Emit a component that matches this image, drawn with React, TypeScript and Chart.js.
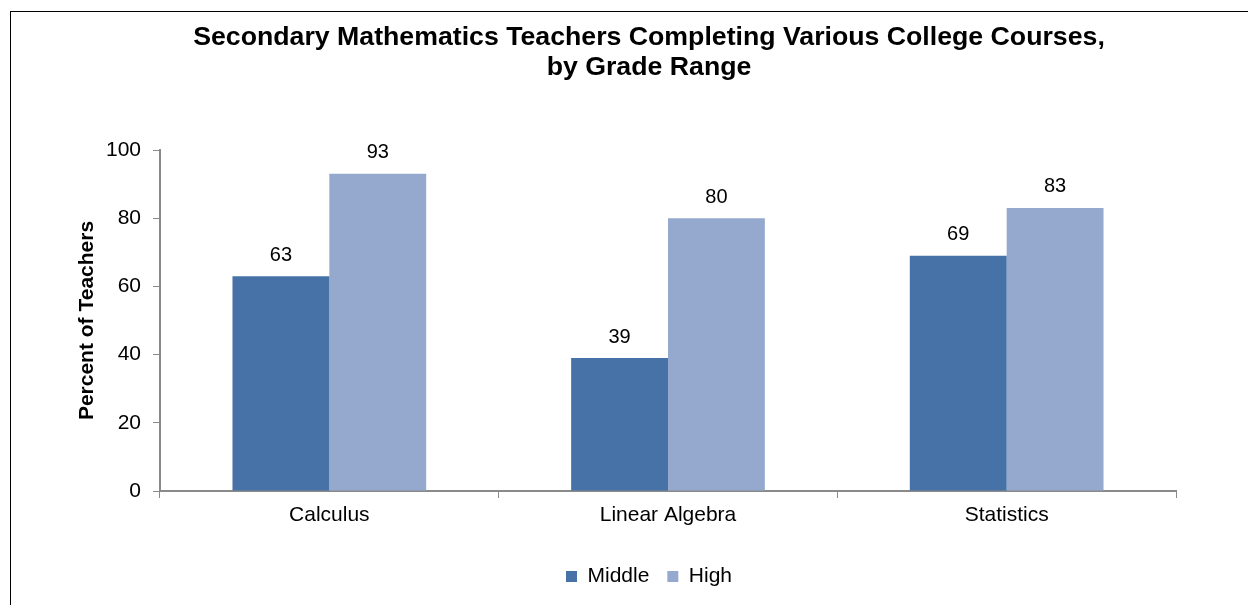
import React, { useEffect, useRef } from "react";
import { Chart, registerables } from "chart.js";

Chart.register(...registerables);

const TITLE_LINES = [
  "Secondary Mathematics Teachers Completing Various College Courses,",
  "by Grade Range",
];
const Y_TITLE = "Percent of Teachers";
const CATEGORIES = ["Calculus", "Linear Algebra", "Statistics"];
const SERIES_NAMES = ["Middle", "High"];
const MIDDLE_VALUES = [63, 39, 69];
const HIGH_VALUES = [93, 80, 83];
const Y_MIN = 0;
const Y_MAX = 100;
const Y_STEP = 20;

const COLOR_MIDDLE = "#4672A7";
const COLOR_HIGH = "#95A9CF";
const AXIS_COLOR = "#8A8A8A";
const FONT = '"Liberation Sans", Arial, sans-serif';

const dataLabels = {
  id: "dataLabels",
  afterDatasetsDraw(chart: any) {
    const ctx = chart.ctx;
    ctx.save();
    ctx.font = `20px ${FONT}`;
    ctx.fillStyle = "#000";
    ctx.textAlign = "center";
    ctx.textBaseline = "middle";
    chart.data.datasets.forEach((ds: any, i: number) => {
      const meta = chart.getDatasetMeta(i);
      meta.data.forEach((bar: any, j: number) => {
        ctx.fillText(String(ds.data[j]), bar.x, bar.y - 21);
      });
    });
    ctx.restore();
  },
};

export default function App() {
  const ref = useRef<HTMLCanvasElement>(null);

  useEffect(() => {
    if (!ref.current) return;
    const chart = new Chart(ref.current, {
      type: "bar",
      data: {
        labels: CATEGORIES,
        datasets: [
          {
            label: SERIES_NAMES[0],
            data: MIDDLE_VALUES,
            backgroundColor: COLOR_MIDDLE,
            borderWidth: 0,
          },
          {
            label: SERIES_NAMES[1],
            data: HIGH_VALUES,
            backgroundColor: COLOR_HIGH,
            borderWidth: 0,
          },
        ],
      },
      options: {
        responsive: false,
        animation: false,
        layout: { padding: { left: 60, right: 10, top: 0, bottom: 8 } },
        datasets: {
          bar: { categoryPercentage: 0.572, barPercentage: 1 },
        },
        plugins: {
          title: {
            display: true,
            text: TITLE_LINES,
            color: "#000",
            font: { family: FONT, size: 26.7, weight: "bold", lineHeight: 30 / 26.7 },
            padding: { top: 23, bottom: 67 },
          },
          legend: {
            position: "bottom",
            labels: {
              color: "#000",
              font: { family: FONT, size: 21 },
              boxWidth: 11,
              boxHeight: 11,
              padding: 18,
            },
          },
          tooltip: { enabled: false },
        },
        scales: {
          x: {
            grid: {
              display: true,
              drawOnChartArea: false,
              drawTicks: true,
              tickLength: 7,
              color: AXIS_COLOR,
              lineWidth: 1,
            },
            border: { display: true, color: AXIS_COLOR, width: 2 },
            ticks: { color: "#000", font: { family: FONT, size: 21 }, padding: 5 },
            afterFit(scale: any) {
              scale.height = 57;
            },
          },
          y: {
            min: Y_MIN,
            max: Y_MAX,
            grid: {
              display: true,
              drawOnChartArea: false,
              drawTicks: true,
              tickLength: 7,
              color: AXIS_COLOR,
              lineWidth: 1,
            },
            border: { display: true, color: AXIS_COLOR, width: 2 },
            ticks: {
              stepSize: Y_STEP,
              color: "#000",
              font: { family: FONT, size: 21 },
              padding: 12,
            },
            title: {
              display: true,
              text: Y_TITLE,
              color: "#000",
              font: { family: FONT, size: 21, weight: "bold" },
              padding: { top: 15, bottom: 0 },
            },
            afterFit(scale: any) {
              scale.width = 100;
            },
          },
          spacer: {
            type: "linear",
            position: "right",
            display: true,
            grid: { display: false },
            border: { display: false },
            ticks: { display: false },
            afterFit(scale: any) {
              scale.width = 62;
            },
          },
        },
      },
      plugins: [dataLabels],
    });
    return () => chart.destroy();
  }, []);

  return (
    <div
      style={{
        position: "absolute",
        left: 0,
        top: 0,
        width: 1248,
        height: 605,
        overflow: "hidden",
        background: "#fff",
      }}
    >
      <div
        style={{
          position: "absolute",
          left: 10,
          top: 11,
          width: 1400,
          height: 800,
          border: "1px solid #000",
          boxSizing: "border-box",
        }}
      />
      <canvas
        ref={ref}
        width={1248}
        height={605}
        style={{ position: "absolute", left: 0, top: 0, display: "block" }}
      />
    </div>
  );
}
